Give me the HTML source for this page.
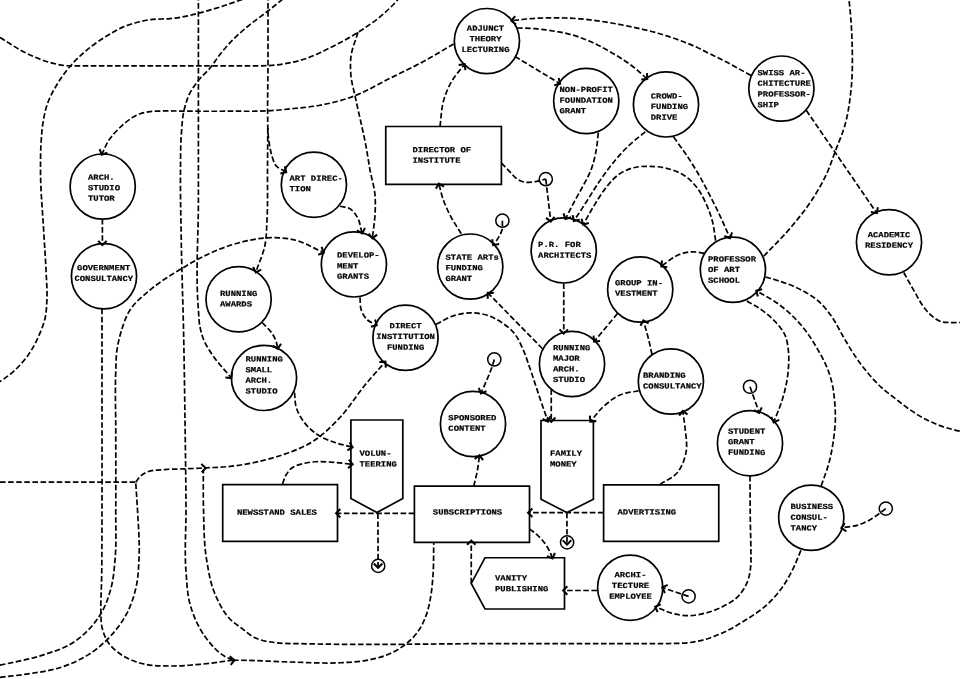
<!DOCTYPE html>
<html lang="en"><head><meta charset="utf-8"><title>Income streams diagram</title>
<style>
html,body{margin:0;padding:0;background:#fff;}
body{width:960px;height:679px;overflow:hidden;}
svg{display:block;}
.e{fill:none;stroke:#000;stroke-width:1.7;stroke-dasharray:5.6 2.5;}
.a{fill:none;stroke:#000;stroke-width:2.05;}
.n{fill:#fff;stroke:#000;stroke-width:1.7;}
.s{fill:none;stroke:#000;stroke-width:1.5;}
text{font-family:"Liberation Mono","DejaVu Sans Mono",monospace;font-weight:bold;font-size:8.9px;fill:#000;stroke:#000;stroke-width:.22px;}
</style></head><body>
<svg width="960" height="679" viewBox="0 0 960 679">
<rect width="960" height="679" fill="#fff"/>
<g class="e">
<path d="M0 37.5C8.33 42.5 16.31 48.22 25 52.5C33.03 56.45 41.38 60.13 50 62.5C54.91 63.85 59.95 65.05 65 65.6C69.95 66.13 75 65.75 80 65.8C103.33 66.06 126.67 65.8 150 65.8C183.33 65.8 216.67 66.11 250 65.8C256 65.74 262.03 65.99 268 65.6C280.37 64.79 292.96 62.78 304.7 59C314.4 55.88 323.64 51.02 332.8 46.4C341.39 42.07 349.88 37.44 358 32.3C366.8 26.72 375.58 20.87 383.4 14C388.36 9.64 393.25 5.05 397.5 0C400.18 -3.18 402.5 -6.67 405 -10"/>
<path d="M250 -3C246.93 -2 243.86 -1.01 240.8 0C233.85 2.29 226.98 4.81 220 7C212.81 9.25 205.6 11.45 198.3 13.3C192.9 14.67 187.49 16.05 182 17C178.03 17.68 174.01 18.19 170 18.6C163.53 19.26 156.92 18.68 150.5 19.6C145.28 20.35 140.09 21.57 135 23C131.29 24.04 127.57 25.17 124 26.6C117.76 29.11 111.94 32.76 106.2 36.3C100.08 40.08 94.08 44.18 88.5 48.7C82.2 53.81 76.13 59.4 70.8 65.5C65.54 71.51 60.8 78.13 56.7 85C53.33 90.65 50.06 96.54 47.8 102.7C45.76 108.25 44.48 114.16 43.4 120C42.19 126.58 41.75 133.32 41.25 140C40.51 149.97 40.5 160 40.5 170C40.5 190.68 42.58 211.34 43.75 232C44.47 244.67 45.46 257.32 46 270C46.43 279.99 47.39 290.03 46.9 300C46.61 305.91 46.44 311.95 45.2 317.7C43.89 323.77 41.5 329.69 39 335.4C36.04 342.17 32.56 348.89 28.3 354.9C24.23 360.64 19.42 366.06 14.2 370.8C9.83 374.76 4.92 378.21 0 381.5C-2.61 383.24 -5.33 384.83 -8 386.5"/>
<path d="M289 -6C286.53 -4 284.07 -2 281.6 0C276.87 3.84 272.19 7.75 267.4 11.5C261.59 16.05 255.4 20.13 249.7 24.8C243.57 29.82 237.52 35.02 232 40.7C227.63 45.2 223.47 49.96 219.6 54.9C216.46 58.9 213.9 63.35 210.7 67.3C206.89 72 202.01 75.84 198.3 80.6C195.04 84.78 191.82 89.17 189.5 93.9C187.06 98.87 185.52 104.4 184.2 109.8C182.21 117.97 181.94 126.58 181.3 135C180.41 146.62 180.64 158.33 180.5 170C180.23 193.33 180.86 216.67 181.25 240C181.8 273.34 183.09 306.66 183.75 340C184.28 366.66 184.64 393.33 185 420C185.4 449.67 185.86 479.33 186 509C186.1 529.83 184.33 550.77 186 571.5C186.87 582.36 187.12 593.61 190 604C193.15 615.36 198.08 627.01 205 636.5C210.47 644 216.88 651.91 225 656.5C227.38 657.84 230 658.83 232.5 660"/>
<path d="M198.4 -5C198.4 30 198.4 65 198.4 100C198.4 133.33 198.4 166.67 198.4 200C198.4 236.67 195.43 273.47 198.4 310C198.86 315.67 198.88 321.44 200 327C200.88 331.4 202.05 335.86 203.75 340C205.93 345.32 209.3 350.2 212.5 355C217.74 362.86 224.5 369.67 230.5 377"/>
<path d="M268 -5C268 16.67 268.06 38.33 268 60C267.95 80 267.39 100 267.7 120C267.75 123.53 267.69 127.08 267.9 130.6C268.14 134.75 268.56 138.9 269.2 143C269.85 147.17 270.52 151.4 271.8 155.4C272.96 159.04 273.87 163.27 276.3 166C278.46 168.43 282.1 169.6 285 171.4"/>
<path d="M267.8 128C267.7 142 267.62 156 267.5 170C267.36 186.67 267.94 203.37 267 220C266.53 228.34 266.62 236.86 265 245C263.23 253.9 259.17 262.33 256.25 271"/>
<path d="M453.75 44C442.5 50.43 431.43 57.21 420 63.3C409.81 68.72 399.33 73.59 389 78.75C377.76 84.36 366.98 91.15 355.3 95.6C343.56 100.08 331.14 103.27 318.75 105.5C310.59 106.97 302.26 107.63 294 108.5C285.35 109.41 276.68 110.31 268 110.8C255.36 111.52 242.67 111.13 230 111.2C216.67 111.27 203.33 111.26 190 111.2C180.67 111.16 171.33 110.69 162 111C158 111.13 153.95 111.05 150 111.6C146.63 112.07 143.18 112.67 140 113.75C132.46 116.31 125.84 122.01 120 127.5C115.3 131.91 110.81 136.96 107.5 142.5C105.44 145.96 104.03 149.83 102.3 153.5"/>
<path d="M358 32.3C355.67 40.28 352.03 48.08 351 56.25C350.18 62.72 350.37 69.48 351 76C351.69 83.08 353.85 90 355.3 97C358.91 114.36 363.35 131.56 366.5 149C367.76 155.98 368.73 163.02 370 170C371.52 178.36 374.27 186.57 375 195C375.57 201.61 375.36 208.35 375 215C374.6 222.36 373.33 229.67 372.5 237"/>
<path d="M440 126.5C441.25 117.67 441.22 108.47 443.75 100C445.81 93.09 448.77 86.19 452.5 80C455.66 74.75 460 70.2 463.75 65.3"/>
<path d="M751 75.6C743.5 71.43 736.1 67.07 728.5 63.1C722.66 60.05 716.71 57.22 710.8 54.3C704.91 51.39 699.12 48.22 693.1 45.6C687.31 43.08 681.36 40.9 675.4 38.8C669.66 36.78 663.85 34.88 658 33.2C649.77 30.83 641.37 29.01 633 27.2C624.15 25.29 615.25 23.51 606.3 22.1C597.48 20.71 588.6 19.52 579.7 18.8C570.86 18.09 561.97 17.77 553.1 17.8C544.27 17.83 535.4 18.19 526.6 19C521.99 19.42 517.4 20.07 512.8 20.6"/>
<path d="M517 28C523.13 28.23 529.29 28.18 535.4 28.7C541.32 29.2 547.23 30.04 553.1 31C559.03 31.97 565.01 32.93 570.8 34.5C576.82 36.13 582.75 38.28 588.5 40.7C594.6 43.27 600.49 46.42 606.3 49.6C612.33 52.9 618.32 56.34 624 60.2C628.86 63.5 633.62 67 638.1 70.8C640.89 73.16 643.5 75.73 646.2 78.2"/>
<path d="M515 56.5L558.9 83"/>
<path d="M598.3 132.7C597.73 137.7 597.43 142.75 596.6 147.7C595.34 155.24 593.74 162.89 591 170C588.86 175.53 585.78 180.73 583 186C580.37 190.99 577.47 195.83 574.8 200.8C571.78 206.42 568.93 212.13 566 217.8"/>
<path d="M645.3 131.8C639.67 136.5 633.68 140.84 628.4 145.9C622.69 151.37 617.49 157.45 612.5 163.6C607.44 169.84 602.82 176.45 598.3 183.1C593.97 189.47 590.08 196.13 585.9 202.6C582.17 208.36 578.37 214.07 574.6 219.8"/>
<path d="M715.6 240.7C714.6 234.5 714.14 228.16 712.6 222.1C711.07 216.06 708.96 210.08 706.4 204.4C703.9 198.86 701.16 193.21 697.5 188.4C694 183.79 689.84 179.24 685.1 176C680.4 172.79 674.7 170.61 669.2 169C662.96 167.17 656.21 166.38 649.7 166.3C643.81 166.23 637.59 166.42 632 168.1C627.02 169.6 622.01 172.14 617.8 175.2C612.99 178.69 609.15 183.69 605.4 188.4C601.43 193.39 598.18 198.97 594.8 204.4C590.93 210.61 587.47 217.07 583.8 223.4"/>
<path d="M673.6 137.1C677.43 142.4 681.42 147.6 685.1 153C689.44 159.36 693.59 165.87 697.5 172.5C701.92 180 705.9 187.76 709.9 195.5C713.54 202.54 717.13 209.62 720.5 216.8C723.6 223.4 726.43 230.13 729.4 236.8"/>
<path d="M763.75 256.25C772.67 246.77 782.11 237.73 790.5 227.8C798.67 218.13 806.74 208.19 813.5 197.5C819.05 188.73 824.17 179.53 828.3 170C830.84 164.14 832.77 158 835 152C838.34 143 842.43 134.21 845 125C848.17 113.65 849.73 101.74 851 90C852.79 73.47 852.54 56.64 852 40C851.56 26.65 850.55 13.28 849 0C848.69 -2.67 848.33 -5.33 848 -8"/>
<path d="M806.25 110.3L876 212"/>
<path d="M501.4 163C504.1 165.8 506.77 168.63 509.5 171.4C511.91 173.85 513.98 176.82 516.8 178.7C519.03 180.18 521.61 181.54 524.2 182.1C526.99 182.7 530.09 182.18 533 181.9C537.32 181.48 541.53 180.1 545.8 179.2"/>
<path d="M545.8 179.2L550.6 220.2"/>
<path d="M502.4 220.7C502.27 223.8 502.76 227.06 502 230C501.31 232.66 499.8 235.18 498.4 237.6C497.11 239.83 495.47 241.87 494 244"/>
<path d="M704.3 253.2C700.17 252.73 696 251.61 691.9 251.8C687.73 251.99 683.39 252.89 679.5 254.4C675.73 255.86 672.26 258.28 668.9 260.6C666.66 262.15 664.57 263.93 662.4 265.6"/>
<path d="M563.75 283.5L563.75 332.2"/>
<path d="M617.5 313.5L595 340.5"/>
<path d="M652 354.5C650.92 349.67 649.93 344.81 648.75 340C647.25 333.89 645.42 327.87 643.75 321.8"/>
<path d="M542.5 348.75L488.75 293.8"/>
<path d="M436.1 324.3C441.43 321.63 446.51 318.21 452.1 316.3C457.74 314.37 463.87 312.94 469.8 312.8C475.68 312.66 481.9 313.58 487.5 315.4C492.47 317.02 497.32 319.6 501.7 322.5C506.2 325.48 510.68 328.99 514.1 333.1C517.93 337.71 520.36 343.59 522.9 349.1C525.77 355.34 527.71 362.01 530 368.5C533.51 378.44 536.61 388.52 540 398.5C542.47 405.78 545 413.03 547.5 420.3"/>
<path d="M551.25 389.5L551.25 420.3"/>
<path d="M638.75 390.75C632.5 392.17 625.76 392.49 620 395C613.56 397.8 607.7 402.64 602.5 407.5C598.34 411.39 595 416.17 591.25 420.5"/>
<path d="M660 484.5C665.83 480.5 673.18 477.74 677.5 472.5C681.92 467.13 684.62 459.43 686 452.5C687.59 444.52 685.8 435.79 685 427.5C684.51 422.42 683.67 417.37 683 412.3"/>
<path d="M494.3 359.45C493.63 361.63 493.03 363.84 492.3 366C491.74 367.68 491.13 369.34 490.5 371C489.24 374.34 487.79 377.61 486.4 380.9C484.8 384.68 483.13 388.43 481.5 392.2"/>
<path d="M473.75 486.2C475 480.8 476.53 475.45 477.5 470C478.28 465.6 478.7 461.13 479.3 456.7"/>
<path d="M750 386.75L758.75 411.5"/>
<path d="M746.8 300.9C751.83 303.97 757.16 306.63 761.9 310.1C766.93 313.78 771.88 317.84 776 322.5C779.35 326.29 782.84 330.36 784.9 334.9C787.1 339.74 787.79 345.44 788.4 350.8C789.06 356.63 788.82 362.63 788.4 368.5C787.97 374.47 787.03 380.44 785.8 386.3C784.83 390.91 783.59 395.49 782.2 400C780 407.15 776.87 414 774.2 421"/>
<path d="M821.2 485.9C823.87 477.93 827.1 470.11 829.2 462C831.15 454.46 832.56 446.72 833.6 439C834.55 431.95 835.33 424.81 835.4 417.7C835.46 411.81 835.06 405.88 834.5 400C834.06 395.42 833.6 390.8 832.7 386.3C831.48 380.25 829.66 374.24 827.4 368.5C824.99 362.38 821.74 356.54 818.5 350.8C814.74 344.12 810.72 337.5 806.1 331.4C801.82 325.75 797.11 320.3 792 315.4C786.56 310.18 780.55 305.42 774.3 301.2C768.96 297.59 763.1 294.73 757.5 291.5"/>
<path d="M765.5 277C769 278 772.53 278.91 776 280C784.46 282.67 792.99 285.57 800.8 289.7C806.99 292.97 813.27 296.59 818.5 301.2C823.17 305.32 827.19 310.36 830.9 315.4C835.75 321.98 839.1 329.64 843.3 336.7C846.82 342.63 850.17 348.67 854 354.4C857.34 359.4 860.85 364.31 864.6 369C869.96 375.7 875.66 382.25 882 388C886.55 392.13 891.64 395.7 896.5 399.5C900.02 402.25 903.47 405.11 907.1 407.7C914.55 413.01 922.4 418.01 930.7 421.8C936.36 424.39 942.31 426.54 948.3 428.3C952.15 429.43 956.07 430.37 960 431.2C963.31 431.9 966.67 432.4 970 433"/>
<path d="M903.75 272.5C907.5 279.17 911.11 285.92 915 292.5C918.24 297.97 920.96 303.89 925 308.75C927.62 311.9 930.43 315.12 933.75 317.5C936.13 319.21 938.72 320.99 941.5 321.8C943.86 322.49 946.5 322.36 949 322.5C952.66 322.7 956.33 322.5 960 322.5C963.33 322.5 966.67 322.5 970 322.5"/>
<path d="M102.4 219L102.4 243.7"/>
<path d="M102 308.75C102 339.17 102 369.58 102 400C102 433.33 102.09 466.67 102 500C101.93 526.67 102.05 553.34 101.6 580C101.42 590.7 100.5 601.41 100.9 612.1C101.08 616.84 100.85 621.71 101.8 626.3C102.94 631.81 104.96 637.58 108 642.2C111.81 648 117.99 652.77 124 656.4C129.36 659.64 135.63 661.86 141.7 663.5C150.75 665.94 160.56 665.83 170 666C179.99 666.18 190.03 665.18 200 664.3C211.03 663.33 222 661.6 233 660.25"/>
<path d="M-8 667C-5.33 666.4 -2.67 665.81 0 665.2C14.81 661.84 29.94 659.43 44.3 654.6C53.29 651.57 62.75 648.88 70.8 644C77.2 640.12 83.3 635.2 88.5 629.8C94.01 624.08 98.93 617.38 102.7 610.4C106.83 602.75 109.54 594.09 111.6 585.6C113.7 576.96 114.3 567.89 115.1 559C116.59 542.43 115.62 525.67 115.75 509C115.96 482.67 115.75 456.33 115.75 430C115.75 410.67 114.96 391.31 115.75 372C116.05 364.66 115.94 357.24 117 350C117.88 343.94 119.23 337.86 121 332C123.28 324.44 125.81 316.54 130 310C134.98 302.21 142.84 296.07 150 290C159.47 281.96 170.32 275.41 181 269C192.74 261.95 204.8 255.07 217.5 250C224.82 247.08 232.36 244.47 240 242.5C248.18 240.39 256.61 238.56 265 238C274.93 237.34 285.41 237.66 295 240C304.57 242.33 313.33 248 322.5 252"/>
<path d="M0 482.1L135.7 482.1"/>
<path d="M-8 678.3C-5.33 677.97 -2.67 677.63 0 677.3C8.86 676.2 17.78 675.46 26.6 674.1C38.49 672.27 50.7 670.88 62 667C71.16 663.86 80.35 659.81 88.5 654.6C96.21 649.67 103.53 643.57 109.8 636.9C116.7 629.56 122.99 621.08 127.5 612.1C131.64 603.86 134.49 594.66 136.4 585.6C138.23 576.94 138.54 567.88 139 559C139.85 542.71 138.35 526.32 137.5 510C137.01 500.69 136.3 491.4 135.7 482.1"/>
<path d="M135.7 482.1C137.6 479.87 139.15 477.21 141.4 475.4C143.45 473.75 145.94 472.43 148.4 471.5C152.24 470.04 156.65 470.22 160.8 469.8C168.46 469.02 176.2 469.22 183.9 468.9C190.7 468.62 197.5 468.3 204.3 468"/>
<path d="M800.9 550.4C797.97 557.17 795.48 564.16 792.1 570.7C788.95 576.8 785.54 582.87 781.5 588.4C777.31 594.13 772.5 599.58 767.3 604.4C760.44 610.76 752.26 615.8 744.3 620.8C737.42 625.12 730.38 629.34 723 632.7C717.18 635.35 711.16 637.8 705 639.5C700.1 640.86 695.04 641.82 690 642.5C683.4 643.39 676.67 643.32 670 643.5C663.34 643.68 656.67 643.57 650 643.6C600 643.82 550 643.6 500 643.6C433.33 643.6 366.64 645.46 300 643.6C292.5 643.39 284.91 643.84 277.5 642.9C269.91 641.94 261.8 641.05 255 637.8C249.55 635.2 244.98 630.63 240 627C237.49 625.17 234.81 623.51 232.5 621.5C224.39 614.47 219.28 603.83 215 594C210.27 583.14 208.45 570.8 206.5 559C203.79 542.59 203.99 525.68 203.5 509C203.12 496.01 203.37 483 203.3 470"/>
<path d="M204.3 468C213.43 467.4 222.63 467.28 231.7 466.2C241.2 465.06 250.68 463.37 260 461.2C265.88 459.83 271.76 458.33 277.5 456.5C290.48 452.36 303.79 447.5 315 440C324.2 433.85 332.34 425.62 340 417.5C349.34 407.6 356.28 395.52 365 385C371.3 377.4 378 370.13 384.5 362.7"/>
<path d="M233 660.25C235.33 660.25 237.67 660.24 240 660.25C256.68 660.32 273.33 661.58 290 662C306.66 662.42 323.37 663.62 340 662.75C348.34 662.31 356.78 662.02 365 660.6C371.4 659.49 377.94 658.24 384 656C391.48 653.24 398.93 649.41 405.2 644.5C409.76 640.93 414.17 636.74 417.6 632.1C421.47 626.85 424.3 620.58 426.5 614.4C428.33 609.26 429.39 603.78 430.4 598.4C431.85 590.7 432.42 582.82 433 575C433.8 564.14 433.5 553.2 433.75 542.3"/>
<path d="M262 322.5C265 325.67 268.49 328.47 271 332C272.97 334.78 274.88 337.79 276 341C276.73 343.08 277 345.33 277.5 347.5"/>
<path d="M294.5 392.5C295.08 397.5 294.8 402.76 296.25 407.5C297.59 411.89 299.93 416.2 302.5 420C306.9 426.49 313.27 432.23 320 436.25C324.58 438.98 329.89 440.73 335 442.5C340.3 444.34 345.83 445.5 351.25 447"/>
<path d="M282.5 484C283.67 481 284.37 477.72 286 475C287.68 472.2 289.88 469.36 292.5 467.5C295.31 465.5 299.08 464.69 302.5 463.75C306.55 462.64 310.81 462.1 315 461.75C321.62 461.2 328.35 461.99 335 462.5C340.43 462.91 345.83 463.67 351.25 464.25"/>
<path d="M414.25 513.3L337.5 513.3"/>
<path d="M377.9 513.3L378.1 566.4"/>
<path d="M603.5 512.7L529.5 512.7"/>
<path d="M566.9 512.7L567 543.2"/>
<path d="M529.5 528.9C532.23 531.07 535.17 533.02 537.7 535.4C540.72 538.23 543.57 541.38 545.9 544.8C547.45 547.07 548.86 549.49 550 552C550.77 553.69 551.33 555.47 552 557.2"/>
<path d="M471.25 583.4L471.25 542"/>
<path d="M597 590.5L564.5 590.5"/>
<path d="M688.6 596.4L663.6 588"/>
<path d="M750 476C750.1 490.67 750.1 505.33 750.3 520C750.45 531 750.91 542 750.9 553C750.9 557.13 751.18 561.3 750.8 565.4C750.31 570.73 749.51 576.27 747.6 581.2C745.54 586.52 742.37 591.87 738.5 596C734.09 600.71 727.86 604.06 722 607C715.15 610.43 707.56 612.87 700 614.3C696.71 614.92 693.33 615.47 690 615.6C684 615.83 677.81 614.82 672 613.3C666.67 611.9 661.67 609.23 656.5 607.2"/>
<path d="M885.8 508.6C883.2 510.57 880.66 512.62 878 514.5C875.94 515.95 873.86 517.4 871.7 518.7C867.98 520.94 864.06 523.05 860 524.5C854.56 526.45 848.53 526.67 842.8 527.75"/>
<path d="M461.25 233.75C457.5 227.5 453.28 221.49 450 215C447.14 209.35 444.46 203.52 442.5 197.5C441.17 193.42 440.33 189.17 439.25 185"/>
<path d="M340 206.25C343.33 207.08 347.18 207.08 350 208.75C353.15 210.62 355.61 214.25 357.5 217.5C359.97 221.76 360.33 227.17 361.75 232"/>
<path d="M360 297.5C360.42 301.67 359.9 306.15 361.25 310C362.51 313.61 364.66 317.46 367.5 320C369.71 321.98 372.83 323 375.5 324.5"/>
</g>
<g class="n">
<circle cx="486.9" cy="41.1" r="32.6"/>
<circle cx="586.25" cy="101" r="32.6"/>
<circle cx="666" cy="104.4" r="32.6"/>
<circle cx="781.4" cy="88.6" r="32.6"/>
<circle cx="102.7" cy="186.6" r="32.6"/>
<circle cx="313.9" cy="184.7" r="32.6"/>
<circle cx="889" cy="242.25" r="32.6"/>
<circle cx="104" cy="276.25" r="32.6"/>
<circle cx="353.9" cy="264.4" r="32.6"/>
<circle cx="470.25" cy="266.6" r="32.6"/>
<circle cx="563.75" cy="250.4" r="32.6"/>
<circle cx="732.9" cy="269.75" r="32.6"/>
<circle cx="640.2" cy="289.5" r="32.6"/>
<circle cx="238.6" cy="299.25" r="32.6"/>
<circle cx="405.5" cy="337.75" r="32.6"/>
<circle cx="264" cy="377.9" r="32.6"/>
<circle cx="572" cy="364" r="32.6"/>
<circle cx="670.9" cy="381.5" r="32.6"/>
<circle cx="473" cy="424" r="32.6"/>
<circle cx="750" cy="443.2" r="32.6"/>
<circle cx="811.25" cy="517.75" r="32.6"/>
<circle cx="630.2" cy="587.7" r="32.6"/>
<polygon points="385.75,126.5 501.4,126.5 501.4,184.4 385.75,184.4"/>
<polygon points="222.7,484.6 337.5,484.6 337.5,541.3 222.7,541.3"/>
<polygon points="414.4,486.2 529.5,486.2 529.5,542.3 414.4,542.3"/>
<polygon points="603.6,484.9 718.75,484.9 718.75,541.3 603.6,541.3"/>
<polygon points="350.9,420 402.8,420 402.8,498.5 376.9,512.5 350.9,498.5"/>
<polygon points="541,420.5 593.4,420.5 593.4,499.2 566.9,512.6 541,499.2"/>
<polygon points="485,557.75 564.5,557.75 564.5,609 485,609 471.25,583.4"/>
</g>
<g class="s">
<circle cx="545.8" cy="179.2" r="6.6"/>
<circle cx="502.4" cy="220.7" r="6.6"/>
<circle cx="494.3" cy="359.45" r="6.6"/>
<circle cx="750" cy="386.75" r="6.6"/>
<circle cx="885.8" cy="508.6" r="6.6"/>
<circle cx="688.6" cy="596.4" r="6.6"/>
<circle cx="378.2" cy="565.9" r="6.6"/>
<circle cx="567.1" cy="542.4" r="6.6"/>
</g>
<g class="a">
<path d="M231.98 372.11L231.39 378.08L225.42 377.49"/>
<path d="M284.82 166.3L286.19 172.14L280.35 173.51"/>
<path d="M261.18 269.66L255.8 272.33L253.14 266.95"/>
<path d="M107.35 152.74L101.7 154.77L99.68 149.12"/>
<path d="M377.04 234.65L372.34 238.39L368.61 233.7"/>
<path d="M458.65 64.98L464.6 64.19L465.39 70.14"/>
<path d="M516.11 24.49L511.41 20.76L515.14 16.06"/>
<path d="M646.96 73.15L647.23 79.14L641.24 79.41"/>
<path d="M558.66 77.9L560.1 83.72L554.27 85.16"/>
<path d="M571.07 217.23L565.36 219.04L563.54 213.33"/>
<path d="M579.71 219.75L573.83 220.97L572.61 215.09"/>
<path d="M588.9 223.07L583.1 224.61L581.55 218.81"/>
<path d="M732.12 232.48L729.97 238.08L724.37 235.93"/>
<path d="M877.89 207.26L876.79 213.15L870.89 212.06"/>
<path d="M554.48 216.88L550.76 221.59L546.06 217.87"/>
<path d="M499.11 244.06L493.21 245.15L492.11 239.25"/>
<path d="M667.24 267.23L661.29 266.45L662.07 260.5"/>
<path d="M567.99 329.36L563.75 333.6L559.51 329.36"/>
<path d="M600.08 341.03L594.1 341.58L593.56 335.6"/>
<path d="M640.41 325.67L643.38 320.45L648.59 323.42"/>
<path d="M487.7 298.8L487.77 292.8L493.77 292.87"/>
<path d="M550.59 416.23L547.96 421.62L542.56 418.99"/>
<path d="M555.49 417.46L551.25 421.7L547.01 417.46"/>
<path d="M596.32 421.13L590.33 421.56L589.9 415.57"/>
<path d="M679.16 415.67L682.82 410.91L687.58 414.56"/>
<path d="M486.52 391.28L480.94 393.48L478.74 387.9"/>
<path d="M474.71 458.95L479.49 455.31L483.12 460.09"/>
<path d="M761.8 407.41L759.22 412.82L753.8 410.23"/>
<path d="M779.18 419.85L773.7 422.31L771.25 416.83"/>
<path d="M757.84 296.6L756.29 290.8L762.08 289.25"/>
<path d="M106.64 240.86L102.4 245.1L98.16 240.86"/>
<path d="M229.66 656.39L234.39 660.08L230.7 664.81"/>
<path d="M321.59 246.97L323.78 252.56L318.2 254.75"/>
<path d="M201.27 463.89L205.7 467.94L201.65 472.36"/>
<path d="M379.43 362.05L385.42 361.65L385.82 367.63"/>
<path d="M280.99 343.78L277.81 348.86L272.73 345.68"/>
<path d="M349.64 442.15L352.6 447.37L347.38 450.33"/>
<path d="M348.88 459.73L352.64 464.4L347.97 468.16"/>
<path d="M340.34 517.54L336.1 513.3L340.34 509.06"/>
<path d="M382.33 563.54L378.11 567.8L373.85 563.57"/>
<path d="M532.34 516.94L528.1 512.7L532.34 508.46"/>
<path d="M571.23 540.34L567 544.6L562.75 540.37"/>
<path d="M554.94 553.02L552.5 558.51L547.02 556.07"/>
<path d="M467.01 544.84L471.25 540.6L475.49 544.84"/>
<path d="M567.34 594.74L563.1 590.5L567.34 586.26"/>
<path d="M664.94 592.93L662.27 587.55L667.65 584.88"/>
<path d="M657.59 612.19L655.2 606.69L660.7 604.29"/>
<path d="M846.38 531.39L841.42 528.01L844.81 523.05"/>
<path d="M435.86 188.82L438.9 183.65L444.07 186.68"/>
<path d="M365.02 228.08L362.14 233.34L356.88 230.47"/>
<path d="M375.1 319.41L376.72 325.19L370.94 326.8"/>
</g>
<g opacity=".999">
<text transform="translate(485.5,30.75) rotate(.05) scale(1,0.88)" text-anchor="middle">ADJUNCT</text>
<text transform="translate(485.5,41.35) rotate(.05) scale(1,0.88)" text-anchor="middle">THEORY</text>
<text transform="translate(485.5,51.95) rotate(.05) scale(1,0.88)" text-anchor="middle">LECTURING</text>
<text transform="translate(559.5,91.9) rotate(.05) scale(1,0.88)">NON-PROFIT</text>
<text transform="translate(559.5,102.65) rotate(.05) scale(1,0.88)">FOUNDATION</text>
<text transform="translate(559.5,113.15) rotate(.05) scale(1,0.88)">GRANT</text>
<text transform="translate(650.75,98.4) rotate(.05) scale(1,0.88)">CROWD-</text>
<text transform="translate(650.75,108.9) rotate(.05) scale(1,0.88)">FUNDING</text>
<text transform="translate(650.75,119.65) rotate(.05) scale(1,0.88)">DRIVE</text>
<text transform="translate(757.5,75.15) rotate(.05) scale(1,0.88)">SWISS AR-</text>
<text transform="translate(757.5,85.65) rotate(.05) scale(1,0.88)">CHITECTURE</text>
<text transform="translate(757.5,96.4) rotate(.05) scale(1,0.88)">PROFESSOR-</text>
<text transform="translate(757.5,107.15) rotate(.05) scale(1,0.88)">SHIP</text>
<text transform="translate(88,179.65) rotate(.05) scale(1,0.88)">ARCH.</text>
<text transform="translate(88,190.25) rotate(.05) scale(1,0.88)">STUDIO</text>
<text transform="translate(88,200.75) rotate(.05) scale(1,0.88)">TUTOR</text>
<text transform="translate(289.5,180.75) rotate(.05) scale(1,0.88)">ART DIREC-</text>
<text transform="translate(289.5,191.15) rotate(.05) scale(1,0.88)">TION</text>
<text transform="translate(889,237.15) rotate(.05) scale(1,0.88)" text-anchor="middle">ACADEMIC</text>
<text transform="translate(889,247.65) rotate(.05) scale(1,0.88)" text-anchor="middle">RESIDENCY</text>
<text transform="translate(103.75,270.15) rotate(.05) scale(1,0.88)" text-anchor="middle">GOVERNMENT</text>
<text transform="translate(103.75,280.9) rotate(.05) scale(1,0.88)" text-anchor="middle">CONSULTANCY</text>
<text transform="translate(337,257.55) rotate(.05) scale(1,0.88)">DEVELOP-</text>
<text transform="translate(337,268.45) rotate(.05) scale(1,0.88)">MENT</text>
<text transform="translate(337,278.85) rotate(.05) scale(1,0.88)">GRANTS</text>
<text transform="translate(445.5,259.65) rotate(.05) scale(1,0.88)">STATE ARTs</text>
<text transform="translate(445.5,270.15) rotate(.05) scale(1,0.88)">FUNDING</text>
<text transform="translate(445.5,280.9) rotate(.05) scale(1,0.88)">GRANT</text>
<text transform="translate(538.1,246.95) rotate(.05) scale(1,0.88)">P.R. FOR</text>
<text transform="translate(538.1,257.65) rotate(.05) scale(1,0.88)">ARCHITECTS</text>
<text transform="translate(708,261.4) rotate(.05) scale(1,0.88)">PROFESSOR</text>
<text transform="translate(708,271.9) rotate(.05) scale(1,0.88)">OF ART</text>
<text transform="translate(708,282.65) rotate(.05) scale(1,0.88)">SCHOOL</text>
<text transform="translate(615,285.35) rotate(.05) scale(1,0.88)">GROUP IN-</text>
<text transform="translate(615,295.65) rotate(.05) scale(1,0.88)">VESTMENT</text>
<text transform="translate(220,295.9) rotate(.05) scale(1,0.88)">RUNNING</text>
<text transform="translate(220,306.4) rotate(.05) scale(1,0.88)">AWARDS</text>
<text transform="translate(405.6,328.15) rotate(.05) scale(1,0.88)" text-anchor="middle">DIRECT</text>
<text transform="translate(405.6,338.9) rotate(.05) scale(1,0.88)" text-anchor="middle">INSTITUTION</text>
<text transform="translate(405.6,349.65) rotate(.05) scale(1,0.88)" text-anchor="middle">FUNDING</text>
<text transform="translate(245.5,361.4) rotate(.05) scale(1,0.88)">RUNNING</text>
<text transform="translate(245.5,372.15) rotate(.05) scale(1,0.88)">SMALL</text>
<text transform="translate(245.5,382.65) rotate(.05) scale(1,0.88)">ARCH.</text>
<text transform="translate(245.5,393.4) rotate(.05) scale(1,0.88)">STUDIO</text>
<text transform="translate(553,350.15) rotate(.05) scale(1,0.88)">RUNNING</text>
<text transform="translate(553,360.65) rotate(.05) scale(1,0.88)">MAJOR</text>
<text transform="translate(553,371.4) rotate(.05) scale(1,0.88)">ARCH.</text>
<text transform="translate(553,381.9) rotate(.05) scale(1,0.88)">STUDIO</text>
<text transform="translate(643,377.65) rotate(.05) scale(1,0.88)">BRANDING</text>
<text transform="translate(643,388.4) rotate(.05) scale(1,0.88)">CONSULTANCY</text>
<text transform="translate(448.3,420.25) rotate(.05) scale(1,0.88)">SPONSORED</text>
<text transform="translate(448.3,430.85) rotate(.05) scale(1,0.88)">CONTENT</text>
<text transform="translate(728,433.65) rotate(.05) scale(1,0.88)">STUDENT</text>
<text transform="translate(728,444.25) rotate(.05) scale(1,0.88)">GRANT</text>
<text transform="translate(728,454.85) rotate(.05) scale(1,0.88)">FUNDING</text>
<text transform="translate(790.5,508.9) rotate(.05) scale(1,0.88)">BUSINESS</text>
<text transform="translate(790.5,519.65) rotate(.05) scale(1,0.88)">CONSUL-</text>
<text transform="translate(790.5,530.4) rotate(.05) scale(1,0.88)">TANCY</text>
<text transform="translate(630.5,577.25) rotate(.05) scale(1,0.88)" text-anchor="middle">ARCHI-</text>
<text transform="translate(630.5,588.05) rotate(.05) scale(1,0.88)" text-anchor="middle">TECTURE</text>
<text transform="translate(630.5,598.65) rotate(.05) scale(1,0.88)" text-anchor="middle">EMPLOYEE</text>
<text transform="translate(412.5,152.15) rotate(.05) scale(1,0.88)">DIRECTOR OF</text>
<text transform="translate(412.5,162.65) rotate(.05) scale(1,0.88)">INSTITUTE</text>
<text transform="translate(236.9,514.65) rotate(.05) scale(1,0.88)">NEWSSTAND SALES</text>
<text transform="translate(432.8,514.55) rotate(.05) scale(1,0.88)">SUBSCRIPTIONS</text>
<text transform="translate(617.5,514.55) rotate(.05) scale(1,0.88)">ADVERTISING</text>
<text transform="translate(359.5,455.85) rotate(.05) scale(1,0.88)">VOLUN-</text>
<text transform="translate(359.5,466.45) rotate(.05) scale(1,0.88)">TEERING</text>
<text transform="translate(550,455.65) rotate(.05) scale(1,0.88)">FAMILY</text>
<text transform="translate(550,466.4) rotate(.05) scale(1,0.88)">MONEY</text>
<text transform="translate(495,580.4) rotate(.05) scale(1,0.88)">VANITY</text>
<text transform="translate(495,591.15) rotate(.05) scale(1,0.88)">PUBLISHING</text>
</g>
</svg></body></html>
